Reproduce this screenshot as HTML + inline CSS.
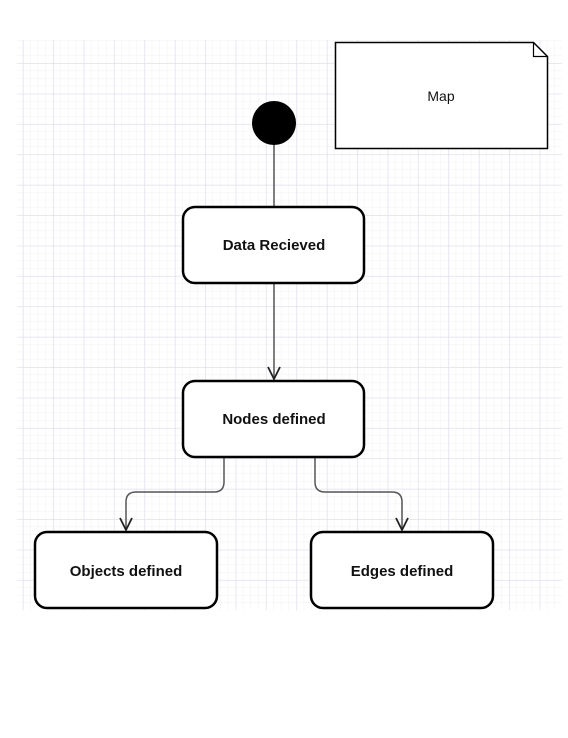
<!DOCTYPE html>
<html><head><style>
html,body{margin:0;padding:0;background:#fff;}
body{width:568px;height:738px;position:relative;overflow:hidden;font-family:"Liberation Sans",Arial,sans-serif;}
</style></head><body>
<svg width="568" height="738" viewBox="0 0 568 738" xmlns="http://www.w3.org/2000/svg" style="position:absolute;left:0;top:0">
<defs>
<pattern id="minor" x="23" y="33" width="7.6" height="7.6" patternUnits="userSpaceOnUse">
<path d="M7.6 0V7.6M0 7.6H7.6" stroke="#f0f0f6" stroke-width="1" fill="none"/>
</pattern>
<pattern id="major" x="23" y="33" width="30.4" height="30.4" patternUnits="userSpaceOnUse">
<path d="M0 0V30.4M0 0H30.4" stroke="#dcdcec" stroke-width="1" fill="none"/>
</pattern>
</defs>
<rect x="17" y="40" width="545" height="570" fill="url(#minor)"/>
<rect x="17" y="40" width="545" height="570" fill="url(#major)"/>

<path d="M335.5 42.5H533.5L547.5 56.5V148.5H335.5Z" fill="#fff" stroke="#000" stroke-width="1.5"/>
<path d="M533.5 42.5V56.5H547.5" fill="none" stroke="#000" stroke-width="1.2"/>
<text x="441" y="101" font-size="14" text-anchor="middle" fill="#111">Map</text>

<line x1="274" y1="140" x2="274" y2="207" stroke="#555" stroke-width="1.5"/>
<circle cx="274" cy="123" r="22" fill="#000"/>

<line x1="274" y1="283" x2="274" y2="379" stroke="#555" stroke-width="1.5"/>
<path d="M268 367L274 379L280 367" fill="none" stroke="#222" stroke-width="1.8"/>
<path d="M224 457V482Q224 492 214 492H136Q126 492 126 502V530" fill="none" stroke="#555" stroke-width="1.5"/>
<path d="M120 518L126 530L132 518" fill="none" stroke="#222" stroke-width="1.8"/>
<path d="M315 457V482Q315 492 325 492H392Q402 492 402 502V530" fill="none" stroke="#555" stroke-width="1.5"/>
<path d="M396 518L402 530L408 518" fill="none" stroke="#222" stroke-width="1.8"/>

<g fill="#fff" stroke="#000" stroke-width="2.5">
<rect x="183" y="207" width="181" height="76" rx="12"/>
<rect x="183" y="381" width="181" height="76" rx="12"/>
<rect x="35" y="532" width="182" height="76" rx="12"/>
<rect x="311" y="532" width="182" height="76" rx="12"/>
</g>
<g font-size="15" font-weight="bold" text-anchor="middle" fill="#111">
<text x="274" y="250">Data Recieved</text>
<text x="274" y="424">Nodes defined</text>
<text x="126" y="576">Objects defined</text>
<text x="402" y="576">Edges defined</text>
</g>
</svg>
</body></html>
